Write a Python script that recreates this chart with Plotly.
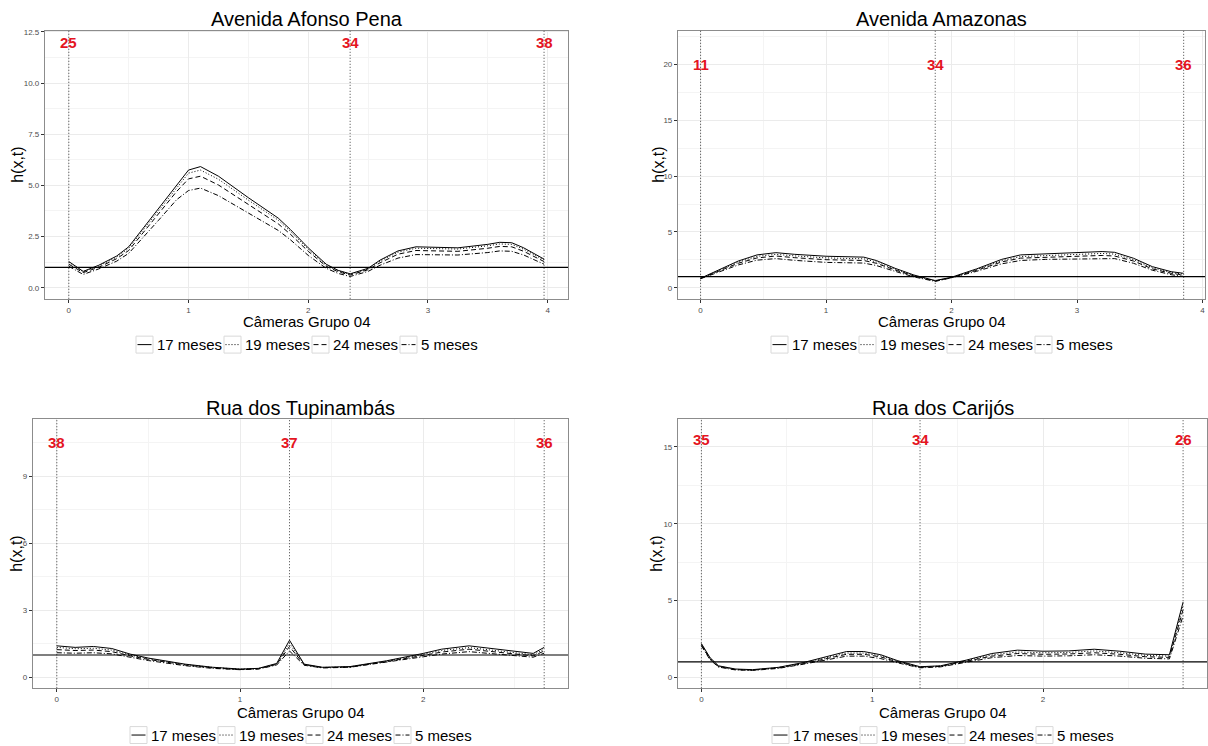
import plotly.graph_objects as go

# ---------------- data ----------------
titles = ["Avenida Afonso Pena", "Avenida Amazonas", "Rua dos Tupinambás", "Rua dos Carijós"]
series_names = ["17 meses", "19 meses", "24 meses", "5 meses"]

x_p1 = [0, 0.12, 0.25, 0.4, 0.5, 0.6, 0.75, 0.9, 1.0, 1.1, 1.25, 1.5, 1.75, 1.85, 2.0, 2.15, 2.25, 2.35,
        2.5, 2.6, 2.75, 2.9, 3.0, 3.25, 3.5, 3.6, 3.7, 3.8, 3.97]
p1_17 = [1.28, 0.80, 1.10, 1.55, 2.00, 2.75, 3.90, 5.05, 5.75, 5.92, 5.45, 4.40, 3.40, 2.85, 1.95, 1.15, 0.85, 0.68,
         0.95, 1.35, 1.80, 2.00, 1.98, 1.95, 2.12, 2.22, 2.20, 1.95, 1.40]
p1_19 = [1.25, 0.78, 1.06, 1.50, 1.93, 2.66, 3.78, 4.90, 5.60, 5.75, 5.30, 4.28, 3.30, 2.76, 1.88, 1.10, 0.82, 0.66,
         0.92, 1.30, 1.74, 1.93, 1.92, 1.89, 2.05, 2.14, 2.12, 1.88, 1.36]
p1_24 = [1.15, 0.74, 1.00, 1.42, 1.82, 2.55, 3.62, 4.70, 5.32, 5.45, 5.02, 4.05, 3.12, 2.62, 1.78, 1.05, 0.78, 0.62,
         0.88, 1.22, 1.64, 1.82, 1.81, 1.78, 1.93, 2.02, 2.00, 1.78, 1.28]
p1_5 = [1.05, 0.65, 0.92, 1.30, 1.68, 2.35, 3.30, 4.30, 4.75, 4.87, 4.50, 3.65, 2.80, 2.35, 1.58, 0.95, 0.70, 0.55,
        0.80, 1.10, 1.45, 1.62, 1.62, 1.60, 1.72, 1.80, 1.78, 1.60, 1.15]

x_p2 = [0, 0.15, 0.3, 0.45, 0.6, 0.75, 1.0, 1.3, 1.4, 1.55, 1.7, 1.87, 2.0, 2.2, 2.4, 2.55, 2.75, 3.0, 3.2, 3.3,
        3.45, 3.6, 3.75, 3.85]
p2_17 = [0.86, 1.60, 2.40, 2.95, 3.15, 3.00, 2.83, 2.75, 2.45, 1.75, 1.15, 0.65, 0.95, 1.70, 2.55, 2.95, 3.05, 3.12,
         3.25, 3.18, 2.65, 1.90, 1.45, 1.30]
p2_19 = [0.85, 1.55, 2.30, 2.82, 3.00, 2.86, 2.68, 2.60, 2.32, 1.68, 1.10, 0.63, 0.93, 1.63, 2.43, 2.80, 2.90, 2.97,
         3.08, 3.02, 2.52, 1.80, 1.38, 1.22]
p2_24 = [0.84, 1.50, 2.20, 2.68, 2.85, 2.70, 2.52, 2.45, 2.20, 1.60, 1.06, 0.61, 0.92, 1.57, 2.32, 2.66, 2.75, 2.80,
         2.90, 2.85, 2.40, 1.70, 1.30, 1.15]
p2_5 = [0.82, 1.42, 2.05, 2.48, 2.62, 2.46, 2.28, 2.22, 2.00, 1.48, 0.98, 0.58, 0.90, 1.48, 2.15, 2.45, 2.55, 2.58,
        2.65, 2.62, 2.20, 1.58, 1.18, 1.02]

x_p3 = [0, 0.1, 0.2, 0.3, 0.4, 0.5, 0.7, 0.85, 1.0, 1.1, 1.2, 1.27, 1.35, 1.45, 1.6, 1.8, 2.0, 2.1, 2.25, 2.4,
        2.55, 2.6, 2.66]
p3_17 = [1.41, 1.34, 1.38, 1.29, 1.04, 0.86, 0.59, 0.45, 0.37, 0.40, 0.62, 1.66, 0.59, 0.45, 0.48, 0.74, 1.07, 1.26,
         1.41, 1.26, 1.11, 1.07, 1.34]
p3_19 = [1.34, 1.28, 1.30, 1.22, 1.00, 0.83, 0.57, 0.44, 0.36, 0.39, 0.60, 1.52, 0.57, 0.44, 0.47, 0.72, 1.03, 1.20,
         1.33, 1.19, 1.05, 1.01, 1.26]
p3_24 = [1.24, 1.20, 1.22, 1.15, 0.96, 0.80, 0.55, 0.42, 0.35, 0.38, 0.58, 1.38, 0.56, 0.43, 0.46, 0.70, 0.98, 1.13,
         1.26, 1.13, 1.00, 0.96, 1.18]
p3_5 = [1.10, 1.08, 1.10, 1.05, 0.90, 0.75, 0.52, 0.40, 0.34, 0.37, 0.55, 1.18, 0.54, 0.42, 0.45, 0.67, 0.92, 1.04,
        1.15, 1.04, 0.93, 0.90, 1.08]

x_p4 = [0, 0.05, 0.1, 0.2, 0.3, 0.45, 0.6, 0.75, 0.85, 0.95, 1.05, 1.15, 1.28, 1.4, 1.55, 1.7, 1.85, 2.0, 2.15,
        2.3, 2.45, 2.6, 2.74, 2.82]
p4_17 = [2.20, 1.29, 0.75, 0.54, 0.50, 0.65, 0.97, 1.40, 1.68, 1.68, 1.47, 1.08, 0.69, 0.75, 1.12, 1.55, 1.77, 1.70,
         1.72, 1.83, 1.70, 1.51, 1.47, 4.90]
p4_19 = [2.15, 1.25, 0.73, 0.52, 0.48, 0.63, 0.94, 1.33, 1.58, 1.58, 1.40, 1.04, 0.67, 0.73, 1.07, 1.46, 1.65, 1.60,
         1.62, 1.72, 1.60, 1.43, 1.38, 4.70]
p4_24 = [2.10, 1.20, 0.70, 0.50, 0.47, 0.61, 0.90, 1.26, 1.50, 1.50, 1.33, 1.00, 0.65, 0.71, 1.03, 1.38, 1.55, 1.50,
         1.52, 1.60, 1.50, 1.34, 1.30, 4.40]
p4_5 = [2.05, 1.15, 0.67, 0.48, 0.45, 0.58, 0.86, 1.18, 1.38, 1.38, 1.22, 0.94, 0.62, 0.68, 0.97, 1.28, 1.42, 1.38,
        1.40, 1.47, 1.38, 1.24, 1.20, 4.00]

# camera markers (vertical lines + labels)
cam_x_p1 = [0, 2.35, 3.97]
cam_x_p2 = [0, 1.87, 3.85]
cam_x_p3 = [0, 1.27, 2.66]
cam_x_p4 = [0, 1.28, 2.82]
cam_lbl_p1 = ["25", "34", "38"]
cam_lbl_p2 = ["11", "34", "36"]
cam_lbl_p3 = ["38", "37", "36"]
cam_lbl_p4 = ["35", "34", "26"]
cam_lbl_y = [12.0, 20.0, 10.5, 15.5]
ref_level = 1.0

# axis settings
x_ranges = [[-0.199, 4.17], [-0.18, 4.02], [-0.13, 2.79], [-0.137, 2.96]]
y_ranges = [[-0.54, 12.55], [-0.98, 23.0], [-0.49, 11.56], [-0.71, 16.8]]
y_ticks = [[0, 2.5, 5, 7.5, 10, 12.5], [0, 5, 10, 15, 20], [0, 3, 6, 9], [0, 5, 10, 15]]
y_fmt = [".1f", "d", "d", "d"]
x_ticks = [[0, 1, 2, 3, 4], [0, 1, 2, 3, 4], [0, 1, 2], [0, 1, 2]]
x_title = "Câmeras Grupo 04"
y_title = "h(x,t)"

# ---------------- layout geometry (pixels of a 1208x746 canvas) ----------------
W, H = 1208, 746
boxes = [(45, 568, 28, 297), (678, 1205, 28, 297), (33, 568, 418, 688), (678, 1207, 418, 688)]
title_y = [16, 16, 407, 407]
xtitle_y = [320, 320, 712, 712]
legend_y = [343, 343, 735, 735]
ytitle_x = [18, 659, 17, 657]

FONT = "Liberation Sans, Arial, sans-serif"
LEG_FONT = 15
KEY = 17          # legend key box size (px)
KEY_GAP = 3       # gap between key and its label
ENTRY_GAP = 3     # gap between entries
# approximate label widths for Arial 15px
label_w = [65, 65, 65, 57]

panels = [
    (x_p1, [p1_17, p1_19, p1_24, p1_5], cam_x_p1, cam_lbl_p1),
    (x_p2, [p2_17, p2_19, p2_24, p2_5], cam_x_p2, cam_lbl_p2),
    (x_p3, [p3_17, p3_19, p3_24, p3_5], cam_x_p3, cam_lbl_p3),
    (x_p4, [p4_17, p4_19, p4_24, p4_5], cam_x_p4, cam_lbl_p4),
]
dashes = ["solid", "1px,2px", "5px,3px", "5px,2px,1px,2px"]

fig = go.Figure()
shapes = []
annotations = []
layout_upd = {}

def px(xp):
    return xp / W

def py(yp):
    return 1 - yp / H

for i, (xs, ys_list, camx, camlbl) in enumerate(panels):
    n = i + 1
    xa = "x" if n == 1 else f"x{n}"
    ya = "y" if n == 1 else f"y{n}"
    x0, x1, yt, yb = boxes[i]
    dom_x = [px(x0), px(x1)]
    dom_y = [py(yb), py(yt)]

    for name, ys, d in zip(series_names, ys_list, dashes):
        fig.add_trace(go.Scatter(
            x=xs, y=ys, mode="lines", name=name,
            line=dict(color="black", width=1, dash=d),
            xaxis=xa, yaxis=ya, showlegend=False,
        ))

    common = dict(showline=True, mirror=True, linecolor="#8c8c8c", linewidth=1.2,
                  showgrid=True, gridcolor="#ebebeb", gridwidth=1, zeroline=False,
                  ticks="outside", ticklen=3, tickcolor="#333333", tickwidth=1,
                  tickfont=dict(family=FONT, size=8, color="#4d4d4d"))
    xkey = "xaxis" if n == 1 else f"xaxis{n}"
    ykey = "yaxis" if n == 1 else f"yaxis{n}"
    layout_upd[xkey] = dict(common, domain=dom_x, range=x_ranges[i], anchor=ya,
                            tickmode="array", tickvals=x_ticks[i], ticklabelstandoff=0,
                            minor=dict(showgrid=True, gridcolor="#f4f4f4", dtick=0.5, tick0=0.5, ticks=""))
    ydt = y_ticks[i][1] - y_ticks[i][0]
    layout_upd[ykey] = dict(common, domain=dom_y, range=y_ranges[i], anchor=xa,
                            tickmode="array", tickvals=y_ticks[i], tickformat=y_fmt[i],
                            minor=dict(showgrid=True, gridcolor="#f4f4f4", dtick=ydt / 2, tick0=ydt / 2, ticks=""))

    # vertical camera lines
    for cx in camx:
        shapes.append(dict(type="line", xref=xa, yref=f"{ya} domain", x0=cx, x1=cx, y0=0, y1=1,
                           line=dict(color="#444444", width=1, dash="1px,2px"), layer="above"))
    # reference horizontal line
    shapes.append(dict(type="line", xref=f"{xa} domain", yref=ya, x0=0, x1=1, y0=ref_level, y1=ref_level,
                       line=dict(color="black", width=1.2), layer="above"))
    # camera labels
    for cx, lb in zip(camx, camlbl):
        annotations.append(dict(x=cx, y=cam_lbl_y[i], xref=xa, yref=ya, text=lb, showarrow=False,
                                font=dict(family=FONT, size=15, color="#e4151f", weight="bold"),
                                xanchor="center", yanchor="middle"))
    cx_pix = (x0 + x1) / 2
    # title
    annotations.append(dict(x=px(cx_pix), y=py(title_y[i]), xref="paper", yref="paper", text=titles[i],
                            showarrow=False, font=dict(family=FONT, size=20, color="black"),
                            xanchor="center", yanchor="middle"))
    # x title
    annotations.append(dict(x=px(cx_pix), y=py(xtitle_y[i]), xref="paper", yref="paper", text=x_title,
                            showarrow=False, font=dict(family=FONT, size=15, color="black"),
                            xanchor="center", yanchor="middle"))
    # y title
    annotations.append(dict(x=px(ytitle_x[i]), y=py((yt + yb) / 2), xref="paper", yref="paper",
                            text=y_title, textangle=-90, showarrow=False,
                            font=dict(family=FONT, size=16, color="black"),
                            xanchor="center", yanchor="middle"))

    # legend (ggplot-style keys with boxes)
    total = sum(KEY + KEY_GAP + w for w in label_w) + ENTRY_GAP * (len(label_w) - 1)
    s = cx_pix - total / 2
    ly = legend_y[i]
    for name, d, w in zip(series_names, dashes, label_w):
        shapes.append(dict(type="rect", xref="paper", yref="paper",
                           x0=px(s), x1=px(s + KEY), y0=py(ly + KEY / 2), y1=py(ly - KEY / 2),
                           line=dict(color="#d9d9d9", width=1), fillcolor="white", layer="above"))
        shapes.append(dict(type="line", xref="paper", yref="paper",
                           x0=px(s + 1.5), x1=px(s + KEY - 1.5), y0=py(ly), y1=py(ly),
                           line=dict(color="black", width=1, dash=d), layer="above"))
        annotations.append(dict(x=px(s + KEY + KEY_GAP), y=py(ly), xref="paper", yref="paper", text=name,
                                showarrow=False, font=dict(family=FONT, size=LEG_FONT, color="black"),
                                xanchor="left", yanchor="middle", borderpad=0))
        s += KEY + KEY_GAP + w + ENTRY_GAP

fig.update_layout(**layout_upd)
fig.update_layout(
    width=W, height=H, margin=dict(l=0, r=0, t=0, b=0),
    paper_bgcolor="white", plot_bgcolor="white",
    shapes=shapes, annotations=annotations,
    font=dict(family=FONT), showlegend=False,
)

fig.write_html("out.html")
